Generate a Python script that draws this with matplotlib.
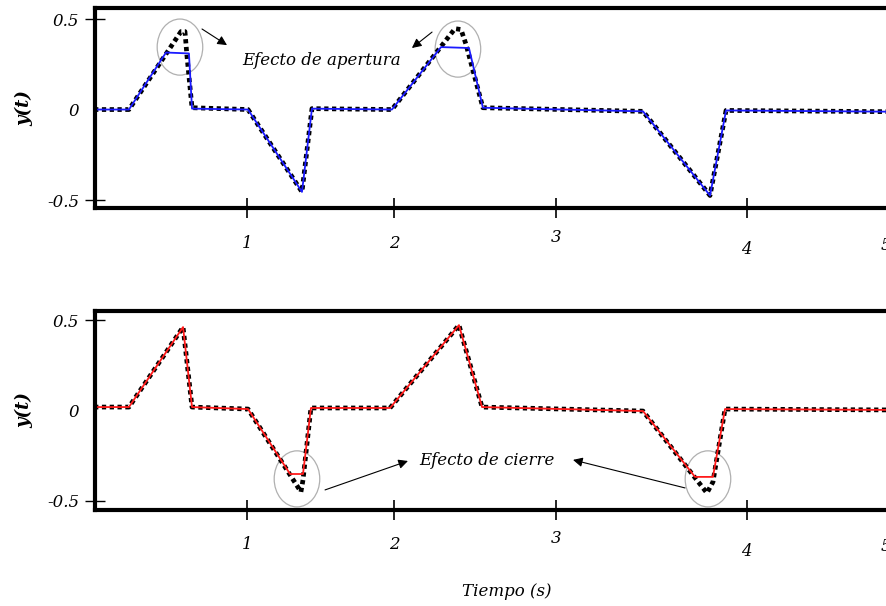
import numpy as np
import matplotlib.pyplot as plt
from matplotlib.patches import Ellipse

# Respuesta del sistema: modelo (color) y simulacion (puntos)
t_ap = [-0.04, 0.197, 0.449, 0.605, 0.626, 1.007, 1.374, 1.442, 1.986,
        2.320, 2.510, 2.605, 3.694, 4.150, 4.259, 5.40]
y_ap = [0.0, 0.0, 0.315, 0.31, 0.005, 0.0, -0.455, 0.005, 0.0,
        0.345, 0.34, 0.01, -0.01, -0.475, -0.005, -0.012]

t_ap_sim = [-0.04, 0.197, 0.551, 0.578, 0.592, 0.626, 1.007, 1.374, 1.442, 1.986,
            2.415, 2.456, 2.49, 2.605, 3.694, 4.150, 4.259, 5.40]
y_ap_sim = [0.0, 0.0, 0.431, 0.431, 0.293, 0.01, 0.0, -0.455, 0.005, 0.0,
            0.447, 0.442, 0.36, 0.01, -0.01, -0.475, -0.005, -0.012]

t_ci = [-0.04, 0.197, 0.565, 0.626, 1.007, 1.293, 1.381, 1.435, 1.973,
        2.442, 2.599, 3.694, 4.048, 4.170, 4.252, 5.40]
y_ci = [0.019, 0.019, 0.461, 0.019, 0.008, -0.351, -0.351, 0.014, 0.014,
        0.472, 0.019, -0.003, -0.367, -0.367, 0.008, 0.003]

t_ci_sim = [-0.04, 0.197, 0.565, 0.626, 1.007, 1.367, 1.381, 1.435, 1.973,
            2.442, 2.599, 3.694, 4.129, 4.170, 4.252, 5.40]
y_ci_sim = [0.019, 0.019, 0.461, 0.019, 0.008, -0.45, -0.384, 0.014, 0.014,
            0.472, 0.019, -0.003, -0.456, -0.395, 0.008, 0.003]

xtick_pos = [1, 2, 3.10, 4.40, 5.35]
xtick_lab = ['1', '2', '3', '4', '5']
xtick_dy = [-0.175, -0.175, -0.145, -0.21, -0.185]

ytick_pos = [-0.5, 0, 0.5]
ytick_lab = ['-0.5', '0', '0.5']

font = {'family': 'DejaVu Serif', 'style': 'italic', 'size': 12}


def style_axes(ax, ylim):
    ax.set_xlim(-0.034, 5.354)
    ax.set_ylim(*ylim)
    for s in ['left', 'top', 'bottom']:
        ax.spines[s].set_linewidth(3)
    ax.spines['right'].set_visible(False)
    ax.set_xticks(xtick_pos[:4])
    ax.set_xticklabels([])
    ax.tick_params(axis='x', direction='inout', length=15, width=1.2)
    ax.set_yticks(ytick_pos)
    ax.set_yticklabels(ytick_lab, fontdict=font)
    ax.tick_params(axis='y', direction='inout', length=15, width=1.0, pad=4)
    ax.yaxis.get_major_ticks()[1].tick1line.set_visible(False)
    for xp, lab, dy in zip(xtick_pos, xtick_lab, xtick_dy):
        ax.text(xp, dy, lab, transform=ax.get_xaxis_transform(), ha='center',
                va='center', clip_on=False, **font)
    ax.set_ylabel('y(t)', fontdict={'family': 'DejaVu Serif', 'style': 'italic',
                                    'weight': 'bold', 'size': 13}, labelpad=10)


def mark(ax, cx, cy):
    ax.add_patch(Ellipse((cx, cy), 0.31, 0.31, fill=False, ec='#b0b0b0', lw=0.9))


def arrow(ax, start, end):
    ax.annotate('', xy=end, xytext=start,
                arrowprops=dict(arrowstyle='-|>', color='black', lw=0.8,
                                mutation_scale=14, shrinkA=0, shrinkB=0))


fig = plt.figure(figsize=(8.87, 6.06), dpi=100)
ax1 = fig.add_axes([95 / 887, 398 / 606, 792 / 887, 200 / 606])
ax2 = fig.add_axes([95 / 887, 96 / 606, 792 / 887, 199 / 606])

dots = dict(color='black', lw=3.4, linestyle=(0, (0.9, 0.75)), dash_capstyle='butt')

ax1.plot(t_ap_sim, y_ap_sim, **dots)
ax1.plot(t_ap, y_ap, color='#1a1aff', lw=1.3)
style_axes(ax1, (-0.544, 0.561))
mark(ax1, 0.544, 0.345)
mark(ax1, 2.435, 0.334)
arrow(ax1, (0.694, 0.445), (0.864, 0.356))
arrow(ax1, (2.259, 0.428), (2.122, 0.34))
ax1.text(1.51, 0.273, 'Efecto de apertura', ha='center', va='center', **font)

ax2.plot(t_ci_sim, y_ci_sim, **dots)
ax2.plot(t_ci, y_ci, color='#ff1a1a', lw=1.3)
style_axes(ax2, (-0.55, 0.55))
mark(ax2, 1.34, -0.378)
mark(ax2, 4.136, -0.378)
arrow(ax2, (1.531, -0.439), (2.095, -0.279))
arrow(ax2, (3.98, -0.428), (3.218, -0.273))
ax2.text(2.633, -0.279, 'Efecto de cierre', ha='center', va='center', **font)

fig.text(507 / 887, 1 - 592 / 606, 'Tiempo (s)', ha='center', va='center', **font)

fig.savefig('out.png', dpi=100)
